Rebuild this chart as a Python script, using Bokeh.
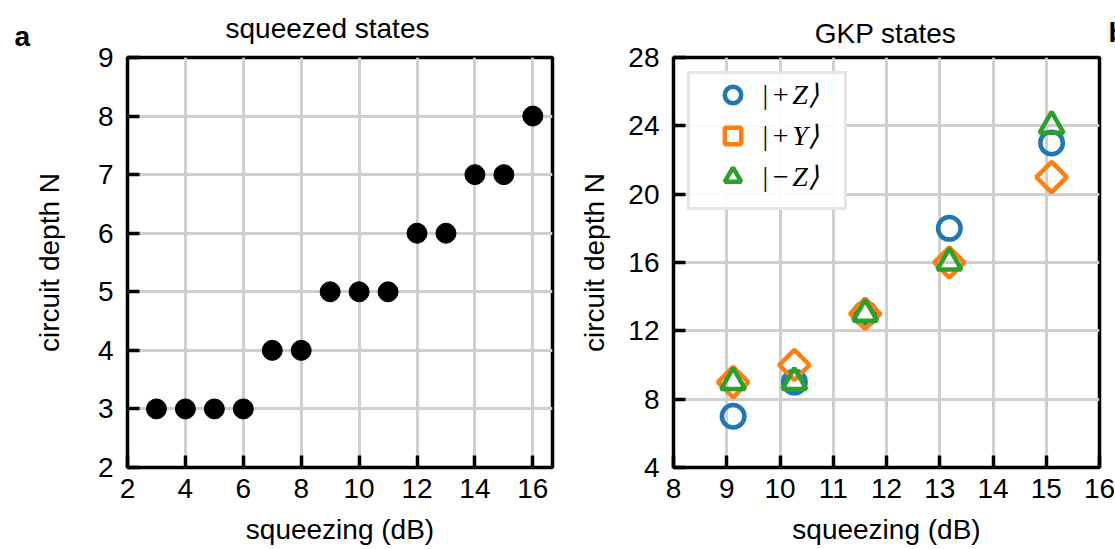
import numpy as np
from bokeh.plotting import figure
from bokeh.layouts import row, column
from bokeh.models import FixedTicker, Range1d, Legend, LegendItem
from bokeh.core.properties import value
from bokeh.embed import file_html
from bokeh.resources import INLINE

# ---- panel a: squeezed states ----
sq_db = [3, 4, 5, 6, 7, 8, 9, 10, 11, 12, 13, 14, 15, 16]
sq_depth = [3, 3, 3, 3, 4, 4, 5, 5, 5, 6, 6, 7, 7, 8]
sq_x_ticks = [2, 4, 6, 8, 10, 12, 14, 16]
sq_y_ticks = [2, 3, 4, 5, 6, 7, 8, 9]

# ---- panel b: GKP states ----
gkp_db = [9.12, 10.27, 11.6, 13.18, 15.1]
depth_plus_z = [7, 9, 13, 18, 23]
depth_plus_y = [9, 10, 13, 16, 21]
depth_minus_z = [9, 9, 13, 16, 24]
gkp_x_ticks = [8, 9, 10, 11, 12, 13, 14, 15, 16]
gkp_y_ticks = [4, 8, 12, 16, 20, 24, 28]

FONT = "Liberation Sans"
FS = "28px"
GRID = "#cfcfcf"
BLUE, ORANGE, GREEN = "#1f77b4", "#ff7f0e", "#2ca02c"

HEADER_H = 47          # strip above the two panels holding titles and panel letters
PANEL_H = 549 - HEADER_H


def style(p, xticks, yticks, ylabel_standoff):
    p.outline_line_color = "black"
    p.outline_line_width = 3.5
    p.background_fill_color = "white"
    p.border_fill_color = "white"
    for ax in (p.xaxis[0], p.yaxis[0]):
        ax.axis_line_color = None
        ax.major_tick_in = 12
        ax.major_tick_out = 0
        ax.major_tick_line_width = 3.5
        ax.major_tick_line_color = "black"
        ax.minor_tick_line_color = None
        ax.major_label_text_font = FONT
        ax.major_label_text_font_size = FS
        ax.major_label_text_color = "black"
        ax.axis_label_text_font = FONT
        ax.axis_label_text_font_size = FS
        ax.axis_label_text_font_style = "normal"
        ax.axis_label_text_color = "black"
    p.xaxis[0].ticker = FixedTicker(ticks=xticks)
    p.yaxis[0].ticker = FixedTicker(ticks=yticks)
    p.xaxis[0].axis_label = "squeezing (dB)"
    p.yaxis[0].axis_label = "circuit depth N"
    p.xaxis[0].major_label_standoff = 11
    p.yaxis[0].major_label_standoff = 14
    p.xaxis[0].axis_label_standoff = 13
    p.yaxis[0].axis_label_standoff = ylabel_standoff
    p.xgrid.ticker = FixedTicker(ticks=xticks)
    p.ygrid.ticker = FixedTicker(ticks=yticks)
    for g in (p.xgrid[0], p.ygrid[0]):
        g.grid_line_color = GRID
        g.grid_line_width = 3


# header strip: a bare canvas measured in pixels from its top-left corner
header = figure(width=1115, height=HEADER_H, x_range=Range1d(0, 1115),
                y_range=Range1d(HEADER_H, 0), output_backend="svg", toolbar_location=None,
                x_axis_location=None, y_axis_location=None,
                min_border_left=0, min_border_right=0, min_border_top=0, min_border_bottom=0)
header.title = None
header.outline_line_color = None
header.background_fill_color = "white"
header.border_fill_color = "white"
header.xgrid.visible = False
header.ygrid.visible = False
header.text(x=[327, 885], y=[28, 33], text=["squeezed states", "GKP states"],
            text_font=value(FONT), text_font_size=FS, text_align="center",
            text_baseline="alphabetic", text_color="black")
header.text(x=[14, 1108], y=[36, 32], text=["a", "b"],
            text_font=value(FONT), text_font_size=FS, text_font_style="bold",
            text_align="left", text_baseline="alphabetic", text_color="black")

p1 = figure(width=560, height=PANEL_H, x_range=Range1d(2, 16.68), y_range=Range1d(2, 9),
            output_backend="svg", toolbar_location=None,
            min_border_left=127, min_border_right=8, min_border_top=10, min_border_bottom=82)
p1.title = None
style(p1, sq_x_ticks, sq_y_ticks, 30)
p1.scatter(sq_db, sq_depth, size=20, color="black")

p2 = figure(width=555, height=PANEL_H, x_range=Range1d(8, 16), y_range=Range1d(4, 28),
            output_backend="svg", toolbar_location=None,
            min_border_left=113, min_border_right=16, min_border_top=10, min_border_bottom=82)
p2.title = None
style(p2, gkp_x_ticks, gkp_y_ticks, 15)
r_z = p2.scatter(gkp_db, depth_plus_z, marker="circle", size=22.5, line_width=4.5,
                 line_color=BLUE, fill_alpha=0)
# |+Y> points are squares turned by 45 degrees
r_y = p2.scatter(gkp_db, depth_plus_y, marker="square", angle=np.pi / 4, size=21.5,
                 line_width=4.5, line_color=ORANGE, fill_alpha=0)
r_mz = p2.scatter(gkp_db, depth_minus_z, marker="triangle", size=24, line_width=4.5,
                  line_color=GREEN, fill_alpha=0)

legend = Legend(items=[LegendItem(label="|\u200a+\u200aZ⟩", renderers=[r_z]),
                       LegendItem(label="|\u200a+\u200aY⟩", renderers=[r_y]),
                       LegendItem(label="|\u200a−\u200aZ⟩", renderers=[r_mz])],
                location="top_left", margin=14, spacing=0,
                padding=dict(left=22, right=15, top=0, bottom=10),
                glyph_height=41, glyph_width=41, label_standoff=8,
                label_width=68, label_height=30,
                label_text_font="Liberation Serif", label_text_font_style="italic",
                label_text_font_size="28px", label_text_color="black",
                border_line_color="#cccccc", border_line_width=3,
                background_fill_color="white", background_fill_alpha=0.9)
p2.add_layout(legend)

layout = column(header, row(p1, p2))
open("out.html", "w").write(file_html(layout, INLINE))
